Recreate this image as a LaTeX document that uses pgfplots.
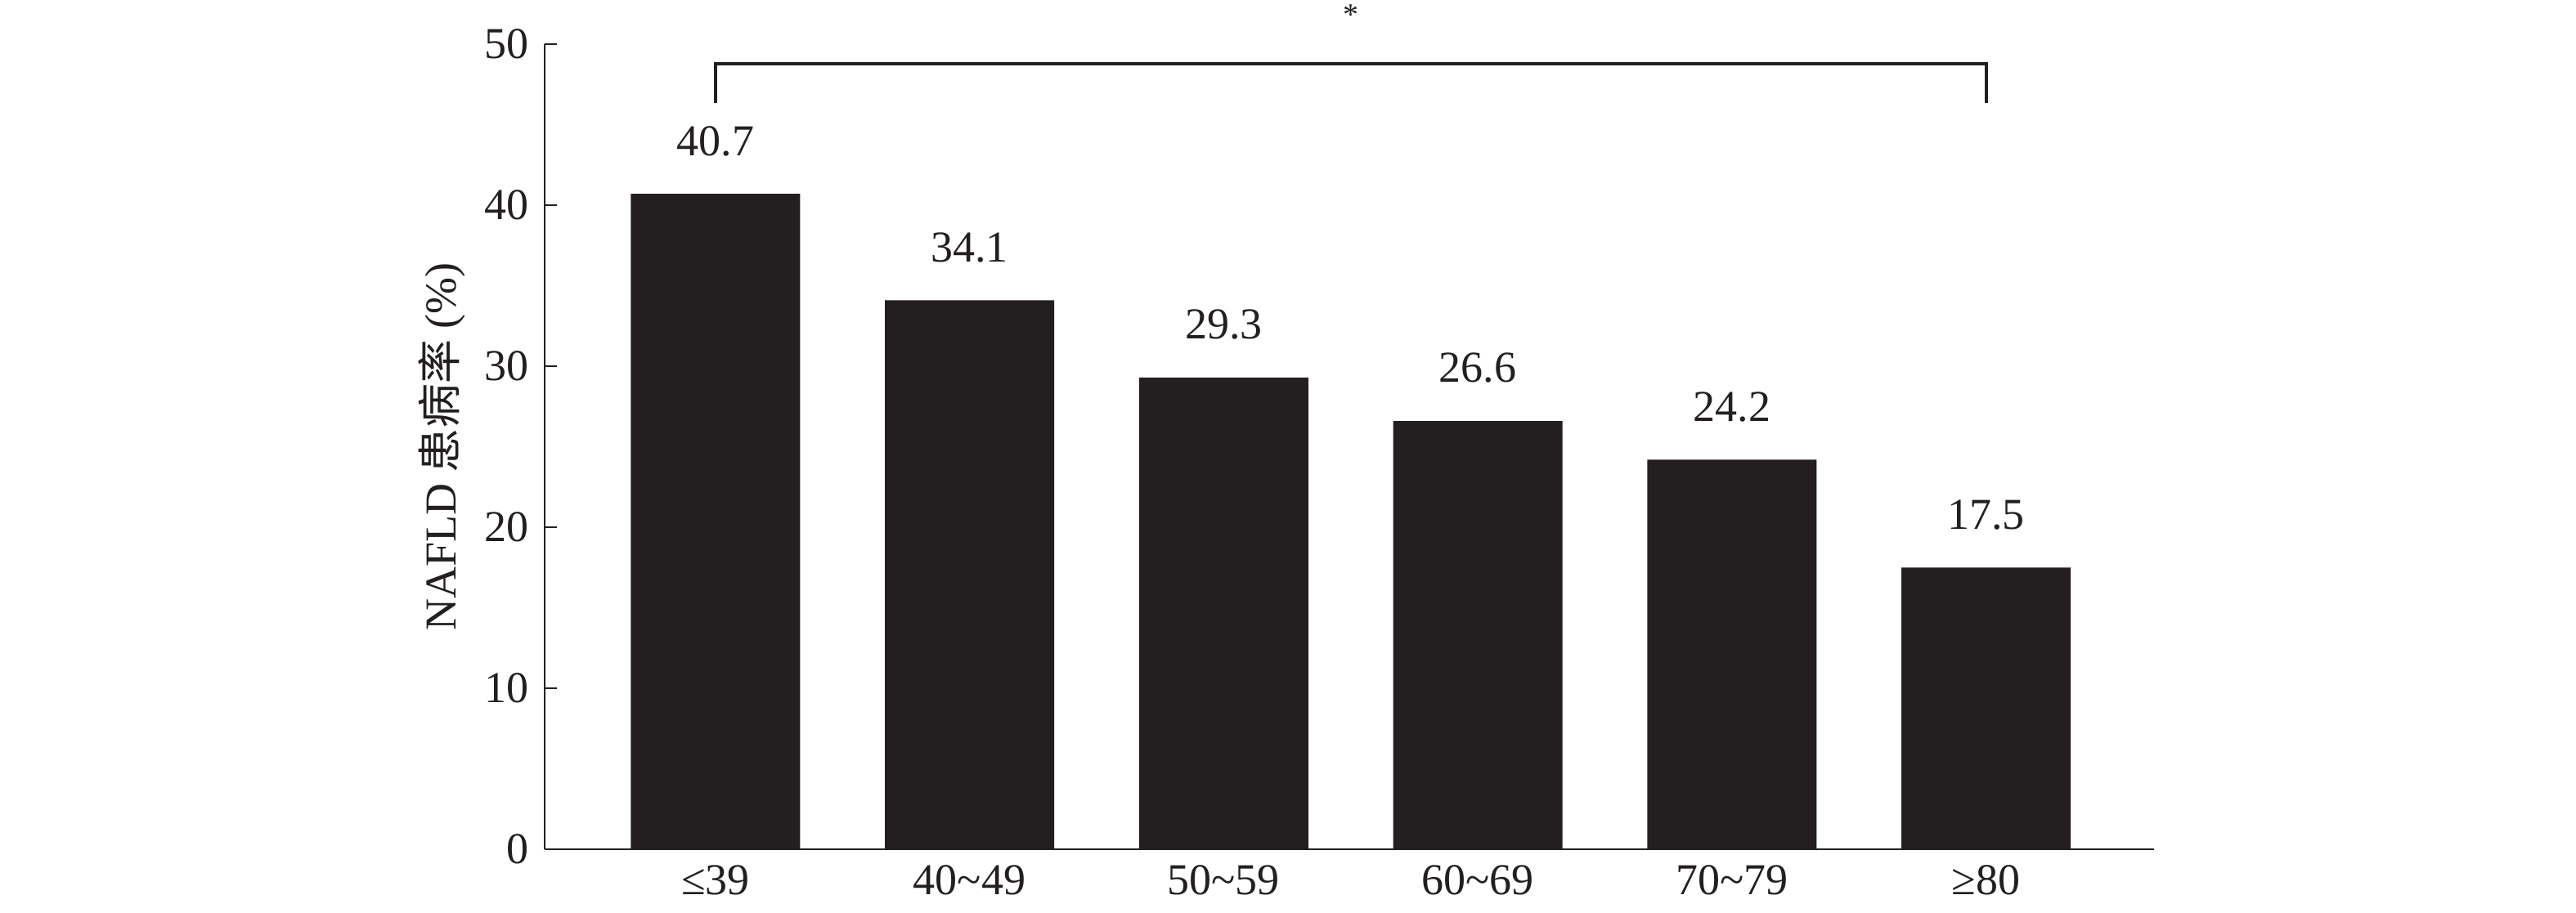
\documentclass[border=0pt]{standalone}
\usepackage{pgfplots}
\pgfplotsset{compat=1.18}
\usepackage{fontspec}
\setmainfont{Liberation Serif}
\newfontfamily\cjk{Noto Sans CJK SC}
\definecolor{barblack}{RGB}{35,31,32}

\begin{document}
\begin{tikzpicture}
  \begin{axis}[
      at={(0,0)}, anchor=south west,
      scale only axis,
      width=364.4pt, height=182.4pt,
      xmin=-0.6725, xmax=5.66,
      ymin=0, ymax=50,
      axis lines*=left,
      axis line style={line width=0.5pt, barblack},
      ytick={0,10,...,50},
      xtick=data,
      xticklabels={≤39, 40\textasciitilde49, 50\textasciitilde59, 60\textasciitilde69, 70\textasciitilde79, ≥80},
      xtick style={draw=none},
      ytick style={line width=0.5pt, barblack},
      tick align=inside,
      major tick length=2.8pt,
      /pgf/number format/assume math mode=true,
      ticklabel style={font=\fontsize{10}{12}\selectfont, text=barblack},
      xticklabel style={yshift=2.7pt},
      ylabel={NAFLD {\cjk 患病率} (\%)},
      every axis y label/.style={at={(axis description cs:0,0.5)}, xshift=-23.3pt,
        rotate=90, anchor=center, font=\fontsize{10}{12}\selectfont, text=barblack},
      clip=false,
      ybar, bar width=38.3pt,
      nodes near coords={\pgfmathprintnumber[fixed,fixed zerofill,precision=1]{\pgfplotspointmeta}},
      nodes near coords style={anchor=south, inner sep=0pt, yshift=8.4pt,
        font=\fontsize{10}{12}\selectfont, text=barblack},
    ]

    % prevalence by age group
    \addplot[fill=barblack, draw=none]
      coordinates {(0,40.7) (1,34.1) (2,29.3) (3,26.6) (4,24.2) (5,17.5)};

    % significance bracket
    \draw[line width=0.75pt, barblack] (axis cs:0,46.35) |- (axis cs:5,48.8) -- (axis cs:5,46.35);
    \node[anchor=base, inner sep=0pt, font=\fontsize{7}{8}\selectfont, text=barblack]
      at (axis cs:2.5,51.2) {*};
  \end{axis}
  \pgfresetboundingbox
  \useasboundingbox (-123.3pt,-14.26pt) rectangle (460pt,192.4pt);
\end{tikzpicture}
\end{document}
